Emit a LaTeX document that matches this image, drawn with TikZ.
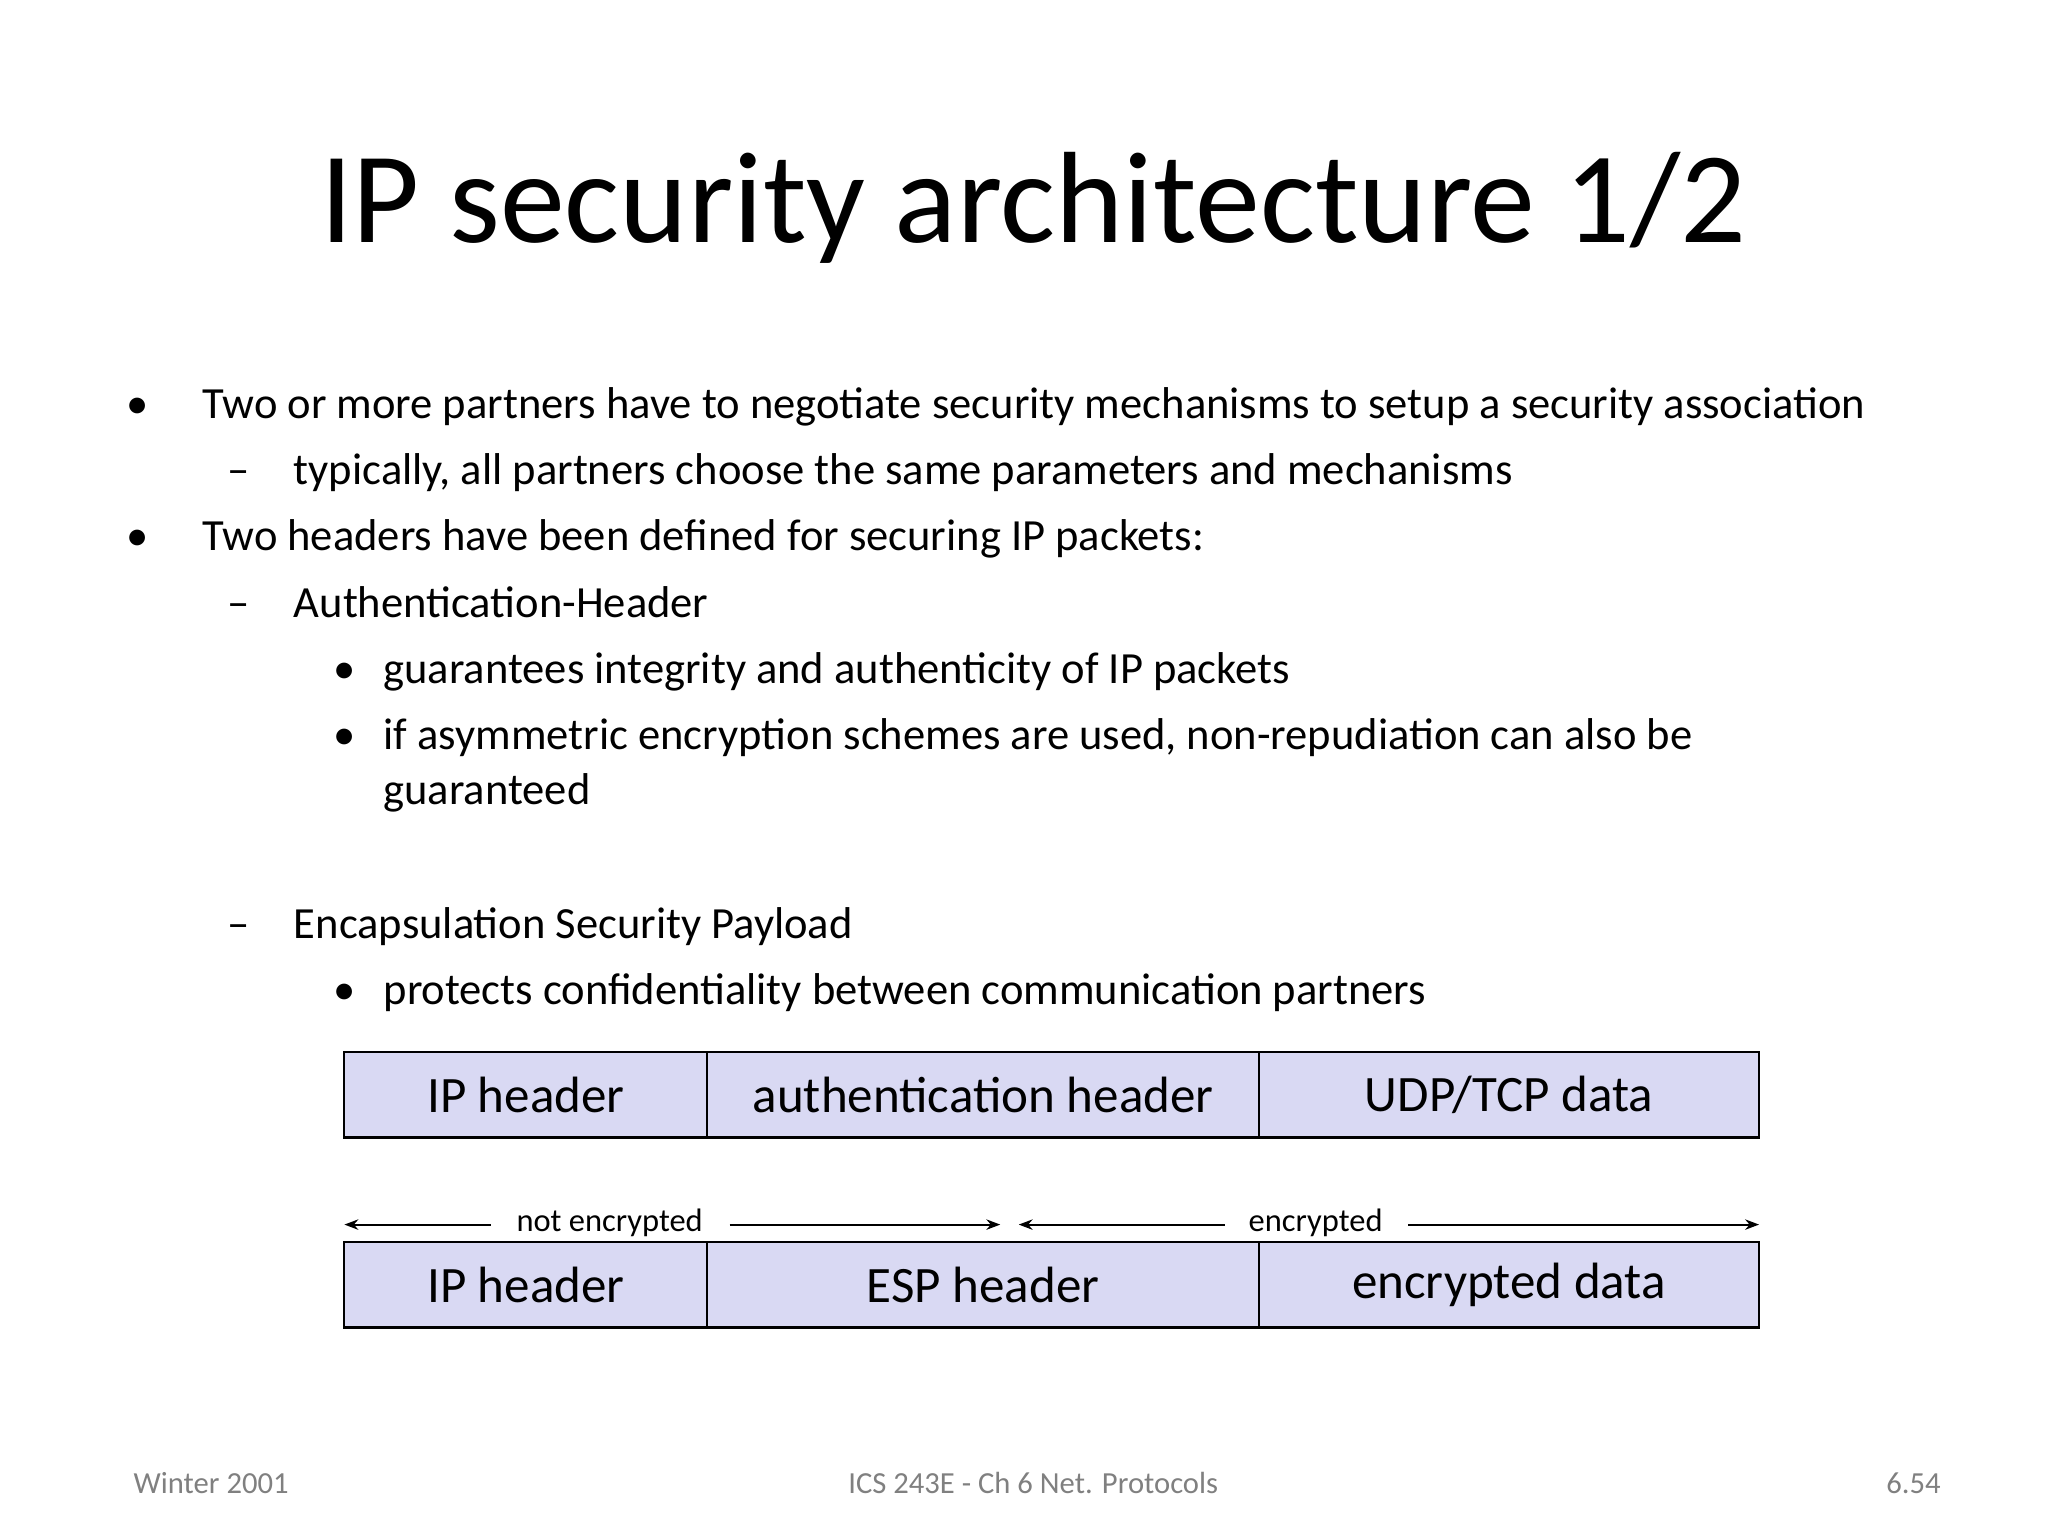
\documentclass[tikz,border=0pt]{standalone}
\usepackage{fontspec}
\setmainfont{Carlito}
\usetikzlibrary{arrows.meta}
\begin{document}
\begin{tikzpicture}[x=0.01cm,y=-0.01cm,
  body/.style={anchor=base west,inner sep=0pt,font=\fontsize{9.6pt}{11pt}\selectfont},
  fld/.style={draw=black,fill=boxfill,line width=0.5pt,minimum height=0.65cm,inner sep=0pt,font=\fontsize{11pt}{13pt}\selectfont},
  lbl/.style={inner sep=0pt,font=\fontsize{7pt}{8pt}\selectfont},
  foot/.style={anchor=base,inner sep=0pt,text=gray,font=\fontsize{6.6pt}{8pt}\selectfont},
  arr/.style={-{Stealth[length=3pt]},line width=0.4pt}]
\definecolor{boxfill}{HTML}{D9D9F3}
\useasboundingbox (0,0) rectangle (1552,1164);
\node[anchor=base,inner sep=0pt,font=\fontsize{28pt}{32pt}\selectfont] (title) at (783,184) {IP security architecture 1/2};
\node[body] (b1) at (95,317) {•};
\node[body] (t1) at (153,317) {Two or more partners have to negotiate security mechanisms to setup a security association};
\node[body] (d1) at (172,367) {–};
\node[body] (t2) at (222,367) {typically, all partners choose the same parameters and mechanisms};
\node[body] (b2) at (95,417) {•};
\node[body] (t3) at (153,417) {Two headers have been defined for securing IP packets:};
\node[body] (d2) at (172,468) {–};
\node[body] (t4) at (222,468) {Authentication-Header};
\node[body] (b3) at (252,518) {•};
\node[body] (t5) at (290,518) {guarantees integrity and authenticity of IP packets};
\node[body] (b4) at (252,568) {•};
\node[body] (t6) at (290,568) {if asymmetric encryption schemes are used, non-repudiation can also be};
\node[body] (t7) at (290,610) {guaranteed};
\node[body] (d3) at (172,711) {–};
\node[body] (t8) at (222,711) {Encapsulation Security Payload};
\node[body] (b5) at (252,761) {•};
\node[body] (t9) at (290,761) {protects confidentiality between communication partners};
% row 1
\node[fld,minimum width=2.75cm] (r1a) at (398.5,829.5) {IP header};
\node[fld,minimum width=4.18cm] (r1b) at (745,829.5) {authentication header};
\node[fld,minimum width=3.79cm] (r1c) at (1143.5,829.5) {UDP/TCP data};
% row 2
\node[fld,minimum width=2.75cm] (r2a) at (398.5,973.5) {IP header};
\node[fld,minimum width=4.18cm] (r2b) at (745,973.5) {ESP header};
\node[fld,minimum width=3.79cm] (r2c) at (1143.5,973.5) {encrypted data};
% arrows
\node[lbl] (ne) at (462,927) {not encrypted};
\node[lbl] (en) at (997,927) {encrypted};
\coordinate (a1) at (261,928); \coordinate (a2) at (372,928);
\coordinate (a3) at (553,928); \coordinate (a4) at (758,928);
\coordinate (a5) at (772,928); \coordinate (a6) at (928,928);
\coordinate (a7) at (1067,928); \coordinate (a8) at (1333,928);
\draw[arr] (a2) -- (a1);
\draw[arr] (a3) -- (a4);
\draw[arr] (a6) -- (a5);
\draw[arr] (a7) -- (a8);
% footer
\node[foot] (f1) at (160,1132) {Winter 2001};
\node[foot] (f2) at (783,1132) {ICS 243E - Ch 6 Net. Protocols};
\node[foot] (f3) at (1450,1132) {6.54};
\end{tikzpicture}
\end{document}
